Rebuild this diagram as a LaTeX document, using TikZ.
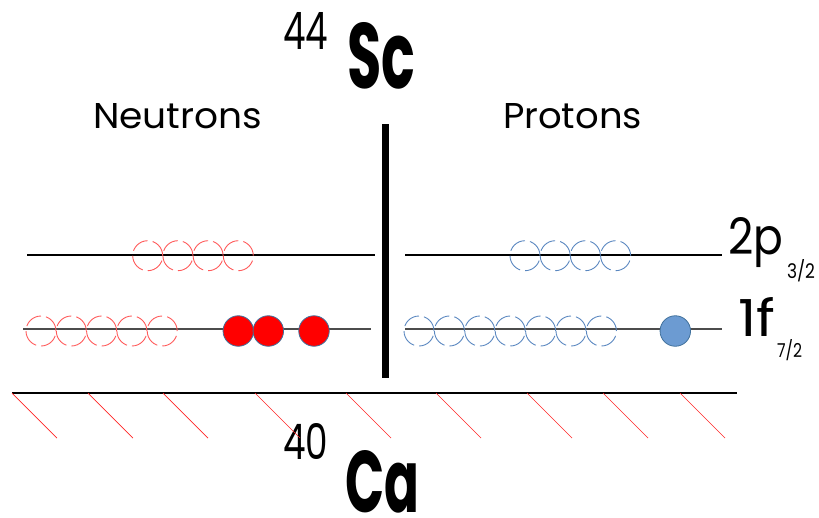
\documentclass[tikz,border=0pt]{standalone}
\usepackage{fontspec}
\usepackage{graphicx}
\setmainfont{Poppins}
\newfontfamily\lblfont{Poppins}
\newcommand{\fitbx}[3]{\resizebox{#1pt}{#2pt}{#3}}
\definecolor{nred}{HTML}{FF5A5A}
\definecolor{pblue}{HTML}{5A87C0}
\definecolor{fillblue}{HTML}{6C9BD2}
\definecolor{edgeblue}{HTML}{41719C}
\begin{document}
\begin{tikzpicture}[x=1pt,y=-1pt,
  txt/.style={inner sep=0pt,outer sep=0pt,anchor=base west,font=\lblfont},
  emptyn/.style={circle,minimum size=30pt,inner sep=0pt,draw=nred,line width=0.9pt,dash pattern=on 18.5pt off 5.05pt},
  emptyp/.style={circle,minimum size=30pt,inner sep=0pt,draw=pblue,line width=0.9pt,dash pattern=on 18.5pt off 5.05pt},
  fulln/.style={circle,minimum size=30.5pt,inner sep=0pt,draw=edgeblue,fill=red,line width=0.8pt},
  fullp/.style={circle,minimum size=30.5pt,inner sep=0pt,draw=edgeblue,fill=fillblue,line width=0.8pt},
  level/.style={line width=1.3pt,black},
  levelf/.style={line width=1.5pt,black!70},
  hatch/.style={draw=red!85,line width=0.7pt}]
\useasboundingbox (0,0) rectangle (819,517);

% titles
\node[txt] (a44) at (283,49) {\fitbx{45}{37}{44}};
\node[txt] (sc) at (347,88) {\fitbx{68}{66}{\bfseries Sc}};
\node[txt] (a40) at (283,459) {\fitbx{45}{36}{40}};
\node[txt] (ca) at (345,512) {\raisebox{0pt}[\height][0pt]{\fitbx{74}{62}{\bfseries Ca}}};
\node[txt] (neut) at (93,128) {\fitbx{169}{25}{Neutrons}};
\node[txt] (prot) at (503,128) {\fitbx{139}{25}{Protons}};

% level labels
\node[txt] (l2p) at (728,254) {\fitbx{55}{37}{2p}};
\node[txt] (l2ps) at (787,278) {\fitbx{28}{19}{3/2}};
\node[txt] (l1f) at (738,336) {\fitbx{37}{39}{1f}};
\node[txt] (l1fs) at (777,357) {\fitbx{25}{18}{7/2}};

% divider
\coordinate (bartop) at (385.5,124);
\coordinate (barbot) at (385.5,378);
\draw[line width=7.5pt] (bartop) -- (barbot);

% level lines
\coordinate (n2pL) at (27,255);  \coordinate (n2pR) at (375,255);
\coordinate (p2pL) at (405,255); \coordinate (p2pR) at (722,255);
\coordinate (n1fL) at (23,329);  \coordinate (n1fR) at (371,329);
\coordinate (p1fL) at (405,329); \coordinate (p1fR) at (722,329);
\draw[level] (n2pL) -- (n2pR);
\draw[level] (p2pL) -- (p2pR);
\draw[levelf] (n1fL) -- (n1fR);
\draw[levelf] (p1fL) -- (p1fR);

% core line
\coordinate (coreL) at (12,393); \coordinate (coreR) at (737,393);
\draw[line width=1.3pt] (coreL) -- (coreR);
\foreach \hx [count=\i] in {12,88,163,255,346,436,527,603,680}{
  \coordinate (h\i a) at (\hx,393);
  \coordinate (h\i b) at (\hx+45,438);
  \draw[hatch] (h\i a) -- (h\i b);
}

% neutron 2p holes
\foreach \cx [count=\i] in {147.7,177.9,208.1,238.3}
  \node[emptyn] (n2p\i) at (\cx,255.7) {};
% neutron 1f holes
\foreach \cx [count=\i] in {41,71.3,101.6,131.9,162.2}
  \node[emptyn] (n1f\i) at (\cx,331) {};
% neutron 1f particles
\node[fulln] (nf1) at (238.3,331) {};
\node[fulln] (nf2) at (268.3,331) {};
\node[fulln] (nf3) at (314,331) {};

% proton 2p holes
\foreach \cx [count=\i] in {525,555.2,585.4,615.6}
  \node[emptyp] (p2p\i) at (\cx,255.7) {};
% proton 1f holes
\foreach \cx [count=\i] in {419,449.4,479.8,510.2,540.6,571,601.4}
  \node[emptyp] (p1f\i) at (\cx,331) {};
% proton 1f particle
\node[fullp] (pf1) at (675.3,331) {};
\end{tikzpicture}
\end{document}
